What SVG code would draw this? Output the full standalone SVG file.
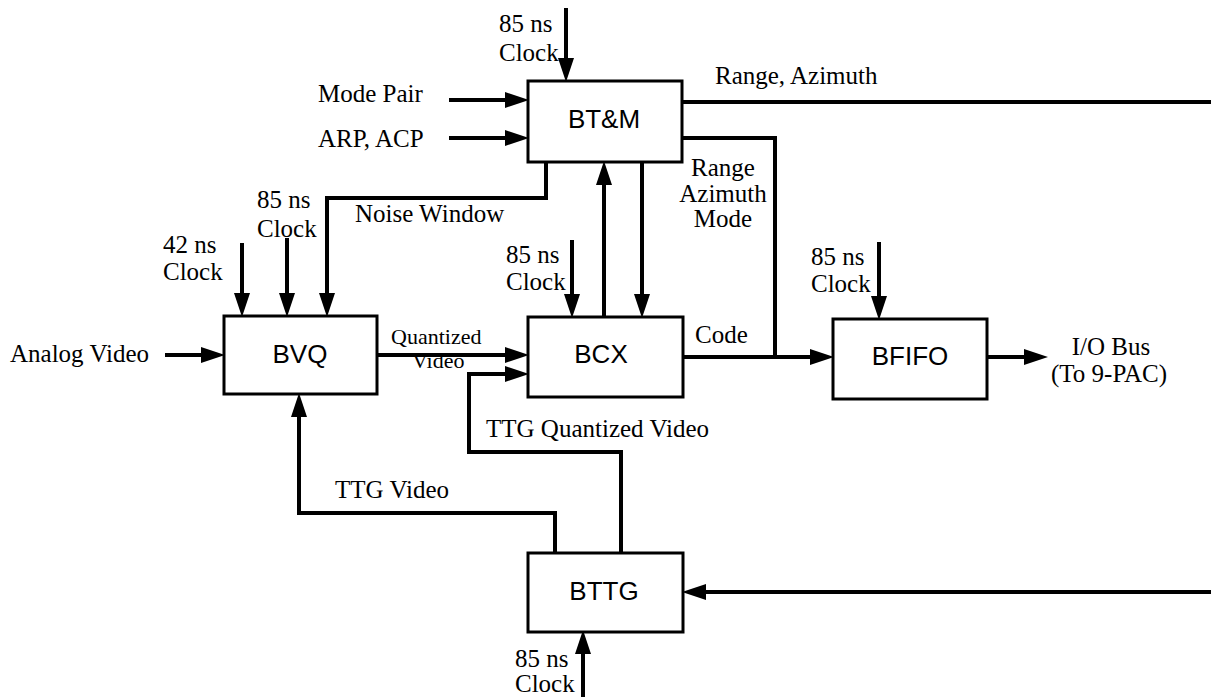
<svg xmlns="http://www.w3.org/2000/svg" width="1211" height="697" viewBox="0 0 1211 697">
<style>
.box{fill:#fff;stroke:#000;stroke-width:3}
.bl{font-family:"Liberation Sans",Arial,sans-serif;font-size:26px;text-anchor:middle;fill:#000}
.lb{font-family:"Liberation Serif","Times New Roman",serif;font-size:25px;fill:#000}
.sm{font-size:22px}
.mid{text-anchor:middle}
.w{fill:none;stroke:#000;stroke-width:4;stroke-linejoin:miter}
.a{marker-end:url(#ah)}
</style>
<defs>
<marker id="ah" viewBox="0 -8 24 16" markerWidth="24" markerHeight="16" refX="1" refY="0" orient="auto" markerUnits="userSpaceOnUse">
<path d="M0,-8 L24,0 L0,8 z" fill="#000"/>
</marker>
</defs>
<rect width="1211" height="697" fill="#fff"/>
<g id="connectors">
<path class="w a" d="M566,8 V59"/>
<path class="w a" d="M449,100 H506"/>
<path class="w a" d="M449,138 H506"/>
<path class="w" d="M682,102 H1211"/>
<path class="w" d="M682,138 H775 V357"/>
<path class="w a" d="M546,162 V198 H327 V294"/>
<path class="w a" d="M242,243 V294"/>
<path class="w a" d="M287,238 V294"/>
<path class="w a" d="M165,355 H202"/>
<path class="w a" d="M377,355 H506"/>
<path class="w a" d="M621,553 V452 H469 V374 H506"/>
<path class="w a" d="M555,553 V513 H299 V416"/>
<path class="w a" d="M1211,592 H705"/>
<path class="w a" d="M583,697 V653"/>
<path class="w a" d="M604,317 V184"/>
<path class="w a" d="M642,162 V295"/>
<path class="w a" d="M572,240 V295"/>
<path class="w a" d="M683,357 H811"/>
<path class="w a" d="M879,242 V297"/>
<path class="w a" d="M987,357 H1025"/>
</g>
<g id="btm">
<rect class="box" x="528" y="81" width="154" height="81"/>
<text class="bl" x="604" y="128">BT&amp;M</text>
</g>
<g id="bvq">
<rect class="box" x="224" y="316" width="153" height="78"/>
<text class="bl" x="300" y="363">BVQ</text>
</g>
<g id="bcx">
<rect class="box" x="528" y="317" width="155" height="80"/>
<text class="bl" x="601" y="363">BCX</text>
</g>
<g id="bfifo">
<rect class="box" x="833" y="319" width="154" height="80"/>
<text class="bl" x="910" y="365">BFIFO</text>
</g>
<g id="bttg">
<rect class="box" x="528" y="553" width="155" height="79"/>
<text class="bl" x="604" y="600">BTTG</text>
</g>
<g id="labels">
<text class="lb" x="499" y="32">85 ns</text>
<text class="lb" x="499" y="61">Clock</text>
<text class="lb" x="318" y="102">Mode Pair</text>
<text class="lb" x="318" y="147">ARP, ACP</text>
<text class="lb" x="715" y="84">Range, Azimuth</text>
<text class="lb mid" x="723" y="176">Range</text>
<text class="lb mid" x="723" y="202">Azimuth</text>
<text class="lb mid" x="723" y="227">Mode</text>
<text class="lb" x="355" y="222">Noise Window</text>
<text class="lb" x="257" y="208">85 ns</text>
<text class="lb" x="257" y="237">Clock</text>
<text class="lb" x="163" y="253">42 ns</text>
<text class="lb" x="163" y="280">Clock</text>
<text class="lb" x="10" y="362">Analog Video</text>
<text class="lb sm" x="391" y="344">Quantized</text>
<text class="lb sm" x="412" y="368">Video</text>
<text class="lb" x="506" y="263">85 ns</text>
<text class="lb" x="506" y="290">Clock</text>
<text class="lb" x="695" y="343">Code</text>
<text class="lb" x="811" y="265">85 ns</text>
<text class="lb" x="811" y="292">Clock</text>
<text class="lb mid" x="1111" y="355">I/O Bus</text>
<text class="lb mid" x="1109" y="382">(To 9-PAC)</text>
<text class="lb" x="486" y="437">TTG Quantized Video</text>
<text class="lb" x="335" y="498">TTG Video</text>
<text class="lb" x="515" y="667">85 ns</text>
<text class="lb" x="515" y="692">Clock</text>
</g>
</svg>
